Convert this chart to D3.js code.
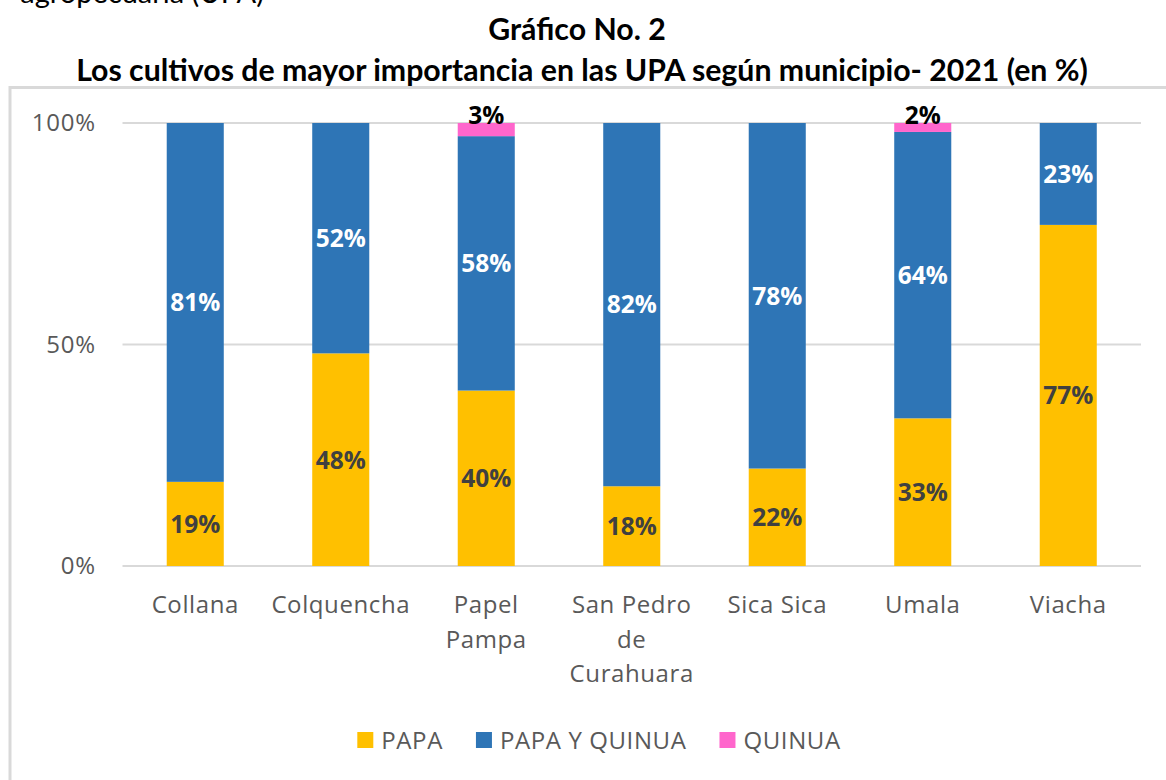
<!DOCTYPE html>
<html>
<head>
<meta charset="utf-8">
<script src="https://cdn.jsdelivr.net/npm/d3@7"></script>
<style>
  html, body { margin: 0; padding: 0; background: #fff; }
  svg { display: block; }
</style>
</head>
<body>
<svg id="chart" width="1166" height="780"></svg>
<script>
// ---- Data ----
const categories = ["Collana", "Colquencha", "Papel Pampa", "San Pedro de Curahuara", "Sica Sica", "Umala", "Viacha"];
const categoryLines = [["Collana"], ["Colquencha"], ["Papel", "Pampa"], ["San Pedro", "de", "Curahuara"], ["Sica Sica"], ["Umala"], ["Viacha"]];
const seriesNames = ["PAPA", "PAPA Y QUINUA", "QUINUA"];
const papa = [19, 48, 40, 18, 22, 33, 77];
const papaQuinua = [81, 52, 58, 82, 78, 64, 23];
const quinua = [0, 0, 3, 0, 0, 2, 0];
const yTicks = [0, 0.5, 1];
const yTickLabels = ["0%", "50%", "100%"];
const seriesColors = ["#FFC000", "#2E75B6", "#FF66CC"];
const labelColors = ["#404040", "#FFFFFF", "#000000"];

const title1 = "Gráfico No. 2";
const title2 = "Los cultivos de mayor importancia en las UPA según municipio- 2021 (en %)";
const topCutText = "agropecuaria (UPA)";

// ---- Build table ----
const table = categories.map((c, i) => ({
  cat: c,
  "PAPA": papa[i],
  "PAPA Y QUINUA": papaQuinua[i],
  "QUINUA": quinua[i]
}));

const svg = d3.select("#chart");
const axisFont = "'Open Sans', sans-serif";
const titleFont = "Lato, 'Open Sans', sans-serif";

// top cut-off text from the document
svg.append("text")
  .attr("x", 264).attr("y", 3)
  .attr("text-anchor", "end")
  .attr("font-family", titleFont)
  .attr("font-size", 29)
  .attr("fill", "#000")
  .text(topCutText);

// titles
const t1 = svg.append("text")
  .attr("x", 577).attr("y", 40)
  .attr("text-anchor", "middle")
  .attr("font-family", titleFont)
  .attr("font-weight", 700)
  .attr("font-size", 23)
  .attr("fill", "#000")
  .text(title1);
const t2 = svg.append("text")
  .attr("x", 582).attr("y", 81)
  .attr("text-anchor", "middle")
  .attr("font-family", titleFont)
  .attr("font-weight", 700)
  .attr("font-size", 23)
  .attr("fill", "#000")
  .text(title2);
// fit subtitle width to ~1012px
{
  const w = t2.node().getComputedTextLength();
  const fs = 23 * 1012 / w;
  t2.attr("font-size", fs);
  t1.attr("font-size", fs);
}

// chart frame
svg.append("rect")
  .attr("x", 10).attr("y", 87.5)
  .attr("width", 1170).attr("height", 720)
  .attr("fill", "none")
  .attr("stroke", "#D9D9D9")
  .attr("stroke-width", 3);

// ---- Scales ----
const x = d3.scaleBand()
  .domain(categories)
  .range([122.5, 1141])
  .paddingInner(0.608)
  .paddingOuter(0.304);

const y = d3.scaleLinear()
  .domain([0, 1])
  .range([566, 123]);

// gridlines
svg.append("g")
  .selectAll("line")
  .data(yTicks)
  .join("line")
  .attr("x1", 122.5).attr("x2", 1141)
  .attr("y1", d => y(d)).attr("y2", d => y(d))
  .attr("stroke", "#D9D9D9")
  .attr("stroke-width", 2);

// y axis labels
const yAxis = d3.axisLeft(y)
  .tickValues(yTicks)
  .tickFormat((d, i) => yTickLabels[i])
  .tickSize(0)
  .tickPadding(0);
const gy = svg.append("g")
  .attr("transform", "translate(96,0)")
  .call(yAxis);
gy.select(".domain").remove();
gy.selectAll("text")
  .attr("font-family", axisFont)
  .attr("font-size", 24)
  .attr("letter-spacing", 0.8)
  .attr("fill", "#595959");

// ---- Stack ----
const stack = d3.stack()
  .keys(seriesNames)
  .offset(d3.stackOffsetExpand);
const stacked = stack(table);

const layers = svg.append("g")
  .selectAll("g")
  .data(stacked)
  .join("g")
  .attr("fill", (d, i) => seriesColors[i]);

layers.selectAll("rect")
  .data(d => d.filter(s => s.data[d.key] > 0))
  .join("rect")
  .attr("x", d => x(d.data.cat))
  .attr("width", x.bandwidth())
  .attr("y", d => y(d[1]))
  .attr("height", d => y(d[0]) - y(d[1]));

// data labels
const labels = svg.append("g");
stacked.forEach((layer, si) => {
  layer.forEach(d => {
    const v = d.data[layer.key];
    if (v <= 0) return;
    const cx = x(d.data.cat) + x.bandwidth() / 2;
    let yy, dy;
    if (layer.key === "QUINUA") {
      yy = y(d[1]) + 1; dy = "0";
    } else {
      yy = (y(d[0]) + y(d[1])) / 2; dy = "0.36em";
    }
    labels.append("text")
      .attr("x", cx)
      .attr("y", yy)
      .attr("dy", dy)
      .attr("text-anchor", "middle")
      .attr("font-family", axisFont)
      .attr("font-weight", 700)
      .attr("font-size", 24.5)
      .attr("fill", labelColors[si])
      .text(v + "%");
  });
});

// x axis labels (multi-line)
const xAxis = d3.axisBottom(x).tickSize(0).tickFormat("");
const gx = svg.append("g")
  .attr("transform", "translate(0,566)")
  .call(xAxis);
gx.select(".domain").remove();
gx.selectAll(".tick").each(function(d, i) {
  const t = d3.select(this).append("text")
    .attr("text-anchor", "middle")
    .attr("font-family", axisFont)
    .attr("font-size", 24)
    .attr("letter-spacing", 0.6)
    .attr("fill", "#595959");
  categoryLines[i].forEach((line, li) => {
    t.append("tspan")
      .attr("x", 0)
      .attr("y", 47 + li * 34.5)
      .text(line);
  });
});

// ---- Legend ----
const legend = svg.append("g");
let lx = 0;
seriesNames.forEach((name, i) => {
  const g = legend.append("g");
  g.append("rect")
    .attr("x", lx).attr("y", 732)
    .attr("width", 16).attr("height", 16)
    .attr("fill", seriesColors[i]);
  const txt = g.append("text")
    .attr("x", lx + 24).attr("y", 749)
    .attr("font-family", axisFont)
    .attr("font-size", 24)
    .attr("letter-spacing", 0.6)
    .attr("fill", "#595959")
    .text(name);
  const w = txt.node().getComputedTextLength();
  lx += 24 + w + 33;
});
const totalW = lx - 33;
legend.attr("transform", `translate(${599 - totalW / 2},0)`);
</script>
</body>
</html>
